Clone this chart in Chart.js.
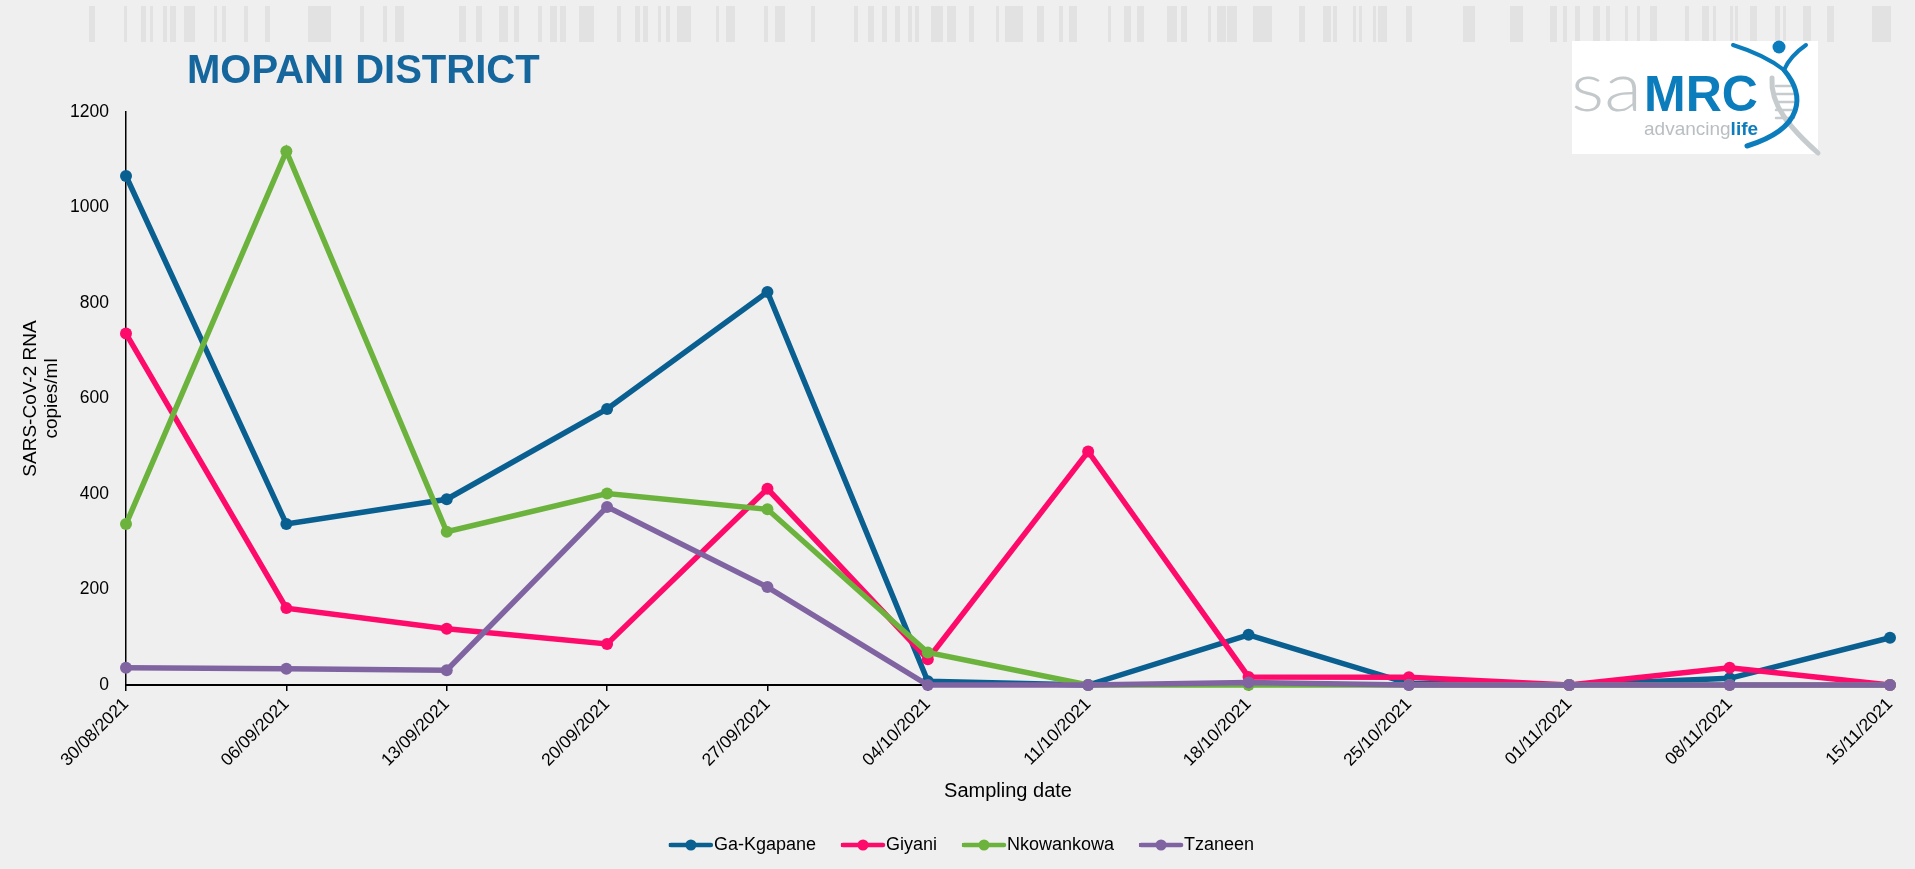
<!DOCTYPE html>
<html>
<head>
<meta charset="utf-8">
<title>Mopani District</title>
<script src="https://cdn.jsdelivr.net/npm/chart.js@4.4.0/dist/chart.umd.min.js"></script>
<style>
html,body{margin:0;padding:0;background:#efefef;}
#wrap{position:relative;width:1915px;height:869px;overflow:hidden;}
#chart{position:absolute;left:0;top:0;}
#title{position:absolute;left:187px;top:49px;margin:0;font:bold 40px "Liberation Sans",Arial,sans-serif;line-height:40px;color:#16669e;white-space:nowrap;}
</style>
</head>
<body>
<div id="wrap">
<canvas id="chart" width="1915" height="869"></canvas>
<h1 id="title">MOPANI DISTRICT</h1>
</div>
<script>
var dates = ['30/08/2021','06/09/2021','13/09/2021','20/09/2021','27/09/2021','04/10/2021',
             '11/10/2021','18/10/2021','25/10/2021','01/11/2021','08/11/2021','15/11/2021'];
var gaKgapane  = [1066, 337, 389, 578, 823,  8,   0, 105,  3, 0, 14, 99];
var giyani     = [736,  161, 118,  86, 411, 54, 489,  17, 16, 0, 36,  0];
var nkowankowa = [337, 1118, 321, 401, 368, 68,   0,   0,  0, 0,  0,  0];
var tzaneen    = [36,    34,  31, 373, 205,  0,   0,   5,  0, 0,  0,  0];
var yTicks = [0, 200, 400, 600, 800, 1000, 1200];

var colors = {ga:'#0a5f91', gi:'#fe0a6a', nk:'#6cb33e', tz:'#8064a2'};
var FONT = '"Liberation Sans", Arial, sans-serif';

// grey strip along the top (decoration only): [x, width]
var stripBars = [[89,6],[124,3],[141,5],[150,3],[163,4],[170,6],[184,11],[214,3],[222,4],[244,4],
  [265,5],[308,23],[360,4],[383,4],[395,9],[459,7],[476,6],[499,9],[514,5],[538,4],[550,7],[560,6],
  [579,15],[617,4],[635,5],[643,5],[658,3],[666,4],[677,14],[716,3],[726,9],[764,4],[775,10],[811,4],
  [854,4],[868,6],[882,5],[895,5],[908,4],[915,4],[931,12],[947,9],[969,5],[996,3],[1005,18],[1037,7],
  [1059,4],[1069,8],[1108,3],[1124,7],[1137,7],[1167,10],[1181,6],[1208,3],[1217,9],[1227,10],
  [1253,19],[1299,6],[1323,8],[1333,4],[1353,3],[1359,3],[1373,3],[1378,9],[1406,6],[1463,12],
  [1510,13],[1550,7],[1563,4],[1575,5],[1593,7],[1606,4],[1625,3],[1637,3],[1650,7],[1685,4],
  [1702,7],[1713,3],[1730,3],[1735,3],[1750,7],[1775,5],[1783,3],[1803,8],[1827,7],[1872,19]];

function line(label, data, color, order){
    return {
        label: label, data: data, order: order,
        borderColor: color, backgroundColor: color,
        pointBackgroundColor: color, pointBorderColor: color,
        borderWidth: 5.5, pointRadius: 6, pointBorderWidth: 0,
        tension: 0, clip: false
    };
}

var decor = {
    id: 'decor',
    beforeDraw: function(chart){
        var ctx = chart.ctx;
        ctx.save();
        ctx.fillStyle = '#e2e2e2';
        stripBars.forEach(function(b){ ctx.fillRect(b[0], 6, b[1], 36); });
        ctx.restore();
    },
    afterDraw: function(chart){
        var ctx = chart.ctx;
        ctx.save();
        // logo box
        ctx.fillStyle = '#ffffff';
        ctx.fillRect(1572, 41, 246, 113);
        ctx.lineCap = 'round';
        ctx.strokeStyle = '#c6cbce';
        ctx.lineWidth = 5;
        ctx.beginPath();
        ctx.moveTo(1772, 78);
        ctx.bezierCurveTo(1770, 105, 1790, 128, 1818, 153);
        ctx.stroke();
        ctx.lineWidth = 2.5;
        [86, 94, 102, 110, 118].forEach(function(y){
            ctx.beginPath(); ctx.moveTo(1776, y); ctx.lineTo(1794, y); ctx.stroke();
        });
        ctx.strokeStyle = '#0b7dbd';
        ctx.lineWidth = 4;
        ctx.beginPath();
        ctx.moveTo(1733, 45);
        ctx.quadraticCurveTo(1765, 55, 1784, 70);
        ctx.moveTo(1806, 45);
        ctx.quadraticCurveTo(1790, 56, 1784, 70);
        ctx.stroke();
        ctx.lineWidth = 5;
        ctx.beginPath();
        ctx.moveTo(1784, 70);
        ctx.bezierCurveTo(1805, 95, 1805, 128, 1747, 146);
        ctx.stroke();
        ctx.fillStyle = '#0b7dbd';
        ctx.beginPath(); ctx.arc(1779, 47, 6.5, 0, Math.PI * 2); ctx.fill();
        ctx.textBaseline = 'alphabetic';
        // thin, slightly stretched "sa"
        ctx.save();
        ctx.translate(1571, 111);
        ctx.scale(1.15, 1);
        ctx.fillStyle = '#c3c8cb';
        ctx.font = '300 68px Lato, "Liberation Sans", sans-serif';
        ctx.fillText('sa', 0, 0);
        ctx.restore();
        ctx.fillStyle = '#0b7dbd';
        ctx.font = 'bold 50px ' + FONT;
        ctx.fillText('MRC', 1644, 111);
        ctx.fillStyle = '#b8bec2';
        ctx.font = '19px ' + FONT;
        ctx.fillText('advancing', 1644, 135);
        var w = ctx.measureText('advancing').width;
        ctx.fillStyle = '#0b7dbd';
        ctx.font = 'bold 19px ' + FONT;
        ctx.fillText('life', 1644 + w, 135);

        // legend symbols: line with a dot, running up to the text
        var lg = chart.legend;
        if (lg && lg.legendHitBoxes) {
            lg.legendItems.forEach(function(item, i){
                var hb = lg.legendHitBoxes[i];
                var c = chart.data.datasets[item.datasetIndex].borderColor;
                var cy = hb.top + hb.height / 2;
                ctx.strokeStyle = c;
                ctx.fillStyle = c;
                ctx.lineWidth = 4.5;
                ctx.lineCap = 'round';
                ctx.beginPath(); ctx.moveTo(hb.left + 2, cy); ctx.lineTo(hb.left + 42, cy); ctx.stroke();
                ctx.beginPath();
                ctx.arc(hb.left + 22, cy, 5.5, 0, Math.PI * 2);
                ctx.fill();
            });
        }
        ctx.restore();
    }
};

var myChart = new Chart(document.getElementById('chart').getContext('2d'), {
    type: 'line',
    data: {
        labels: dates,
        datasets: [
            line('Ga-Kgapane', gaKgapane, colors.ga, 4),
            line('Giyani', giyani, colors.gi, 3),
            line('Nkowankowa', nkowankowa, colors.nk, 2),
            line('Tzaneen', tzaneen, colors.tz, 1)
        ]
    },
    options: {
        responsive: false,
        animation: false,
        devicePixelRatio: 1,
        layout: {padding: {top: 112, right: 0, bottom: 5, left: 8}},
        plugins: {
            tooltip: {enabled: false},
            title: {display: false},
            legend: {
                position: 'bottom',
                labels: {
                    boxWidth: 36, boxHeight: 4, padding: 25, color: '#000',
                    font: {family: FONT, size: 18},
                    sort: function(a, b){ return a.datasetIndex - b.datasetIndex; },
                    generateLabels: function(chart){
                        var items = Chart.defaults.plugins.legend.labels.generateLabels(chart);
                        items.forEach(function(it){ it.lineWidth = 0; });
                        return items;
                    }
                }
            }
        },
        scales: {
            x: {
                type: 'category',
                offset: false,
                afterFit: function(s){ s.height = 126; },
                grid: {display: true, drawOnChartArea: false, drawTicks: true, tickLength: 6, color: '#000', lineWidth: 1.5},
                border: {display: true, color: '#000', width: 2},
                ticks: {autoSkip: false, maxRotation: 45, minRotation: 45, color: '#000',
                        font: {family: FONT, size: 17.5}},
                title: {display: true, text: 'Sampling date', color: '#000',
                        font: {family: FONT, size: 20}, padding: {top: 0, bottom: 8}}
            },
            y: {
                min: 0, max: 1200,
                afterFit: function(s){ s.width = 118; },
                afterBuildTicks: function(s){ s.ticks = yTicks.map(function(v){ return {value: v}; }); },
                grid: {display: false, drawTicks: false},
                border: {display: true, color: '#000', width: 1.5},
                ticks: {padding: 17, color: '#000', font: {family: FONT, size: 17.5},
                        callback: function(v){ return String(v); }},
                title: {display: true, text: ['SARS-CoV-2 RNA', 'copies/ml'], color: '#000',
                        font: {family: FONT, size: 19, lineHeight: 1.12}, padding: {top: 12, bottom: 0}}
            },
            // empty right-hand strip so the plot ends where the reference does
            yRight: {
                type: 'linear', position: 'right', display: true,
                afterFit: function(s){ s.width = 25; },
                grid: {display: false, drawTicks: false},
                border: {display: false},
                ticks: {display: false}
            }
        }
    },
    plugins: [decor]
});
</script>
</body>
</html>
